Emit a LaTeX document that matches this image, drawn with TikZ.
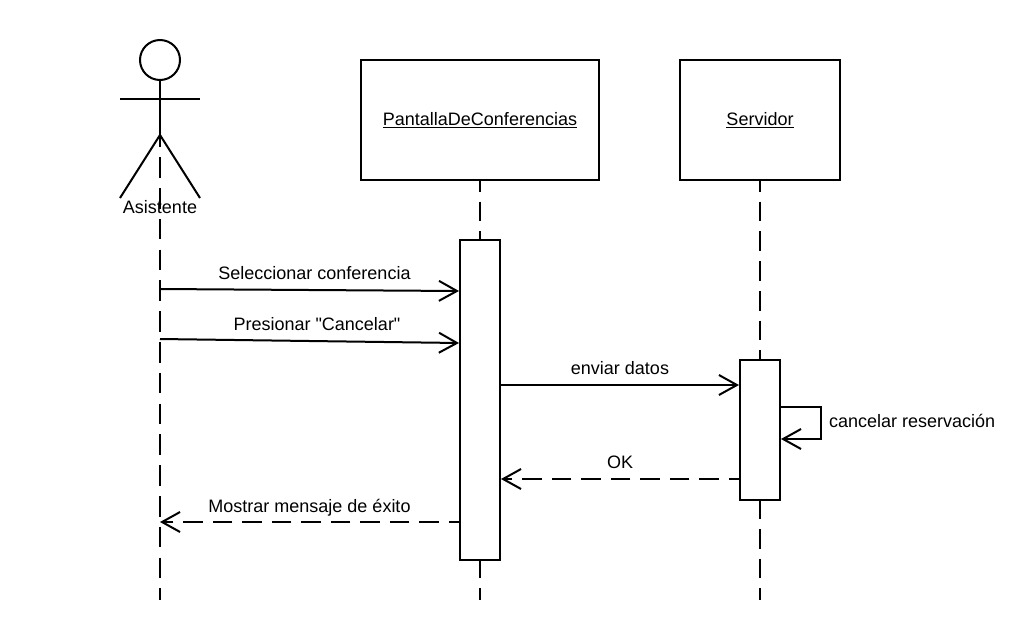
\documentclass[tikz,border=0pt]{standalone}
\usepackage{fontspec}
\setmainfont{Liberation Sans}
\newfontfamily\plainfont{Liberation Sans}
\usetikzlibrary{arrows.meta}
\tikzset{
  x=1pt,y=-1pt,
  every node/.style={font=\fontsize{18}{21}\selectfont,inner sep=0pt,outer sep=0pt},
  ln/.style={draw=black,line width=2pt},
  lifeline/.style={ln,dash pattern=on 19.8pt off 9.95pt,dash phase=7.7pt},
  actorline/.style={ln,dash pattern=on 20.5pt off 10.3pt},
  headbox/.style={ln,fill=white,minimum width=#1,minimum height=119.5pt},
  activation/.style={ln,fill=white,minimum width=40pt,minimum height=#1},
  msg/.style={ln,-{Straight Barb[length=18pt,width=20pt,line width=2pt]}},
  rmsg/.style={msg,dash pattern=on 19.7pt off 9.8pt,dash phase=8.3pt},
  lbl/.style={anchor=base},
}
\begin{document}
\begin{tikzpicture}
\useasboundingbox (0,0) rectangle (1035,640);
% end points
\coordinate (actTop) at (160,126.4);
\coordinate (actEnd) at (160,600);
\coordinate (pEnd) at (480,600);
\coordinate (sEnd) at (760,600);
% heads
\node[headbox=238pt] (pantalla) at (480,119.75) {\underline{PantallaDeConferencias}};
\node[headbox=160pt] (servidor) at (760,119.75) {\underline{Servidor}};
% lifelines
\draw[actorline] (actTop) -- (actEnd);
\draw[lifeline] (pantalla.south) -- (pEnd);
\draw[lifeline] (servidor.south) -- (sEnd);
% actor
\node[draw=black,line width=2pt,circle,minimum size=40pt,fill=white] (head) at (160,60) {};
\coordinate (hip) at (160,135);
\coordinate (armL) at (120,99);
\coordinate (armR) at (200,99);
\coordinate (legL) at (120,198);
\coordinate (legR) at (200,198);
\draw[ln] (head.south) -- (hip);
\draw[ln] (armL) -- (armR);
\draw[ln] (legL) -- (hip) -- (legR);
\node[lbl] (asistente) at (160,213) {Asistente};
% activations
\node[activation=320pt] (barP) at (480,400) {};
\node[activation=140pt] (barS) at (760,430) {};
% free ends on the actor's lifeline
\coordinate (a1) at (160,289);
\coordinate (a2) at (160,339);
\coordinate (a3) at (160,522);
\coordinate (p1) at (459,291);
\coordinate (p2) at (459,343);
\coordinate (p3) at (500,385);
\coordinate (s1) at (739,385);
\coordinate (s2) at (740,479);
\coordinate (p4) at (501,479);
\coordinate (p5) at (460,522);
\coordinate (s3) at (780,407);
\coordinate (s4) at (821,407);
\coordinate (s5) at (821,439);
\coordinate (s6) at (781,439);
% messages
\draw[msg] (a1) -- (p1);
\draw[msg] (a2) -- (p2);
\draw[msg] (p3) -- (s1);
\draw[msg] (s3) -- (s4) -- (s5) -- (s6);
\draw[rmsg] (s2) -- (p4);
\draw[rmsg] (p5) -- (a3);
% labels
\node[lbl] (m1) at (314.5,279) {Seleccionar conferencia};
\node[lbl] (m2) at (317,330) {Presionar {\plainfont"}Cancelar{\plainfont"}};
\node[lbl] (m3) at (620,374) {enviar datos};
\node[lbl,anchor=base west] (m4) at (829,427) {cancelar reservación};
\node[lbl] (m5) at (620,468) {OK};
\node[lbl] (m6) at (309.5,512) {Mostrar mensaje de éxito};
\end{tikzpicture}
\end{document}
